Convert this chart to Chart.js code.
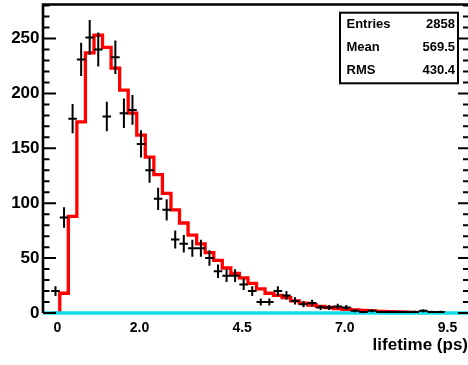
<!DOCTYPE html>
<html>
<head>
<meta charset="utf-8">
<title>lifetime</title>
<script src="https://cdn.jsdelivr.net/npm/chart.js@4.4.0/dist/chart.umd.min.js"></script>
<style>
  html, body { margin: 0; padding: 0; background: #fff; }
</style>
</head>
<body>
<canvas id="lifetimeChart" width="468" height="365"></canvas>
<script>
// ------------------------
// Binning
// ------------------------

const binStart = -0.15;
const binWidth = 0.2083;

// entries per bin (drawn as points with sqrt(N) errors)
const counts = [
    20, 87, 177, 231, 251, 240, 179, 233, 182, 185,
    154, 130, 104, 94, 67, 63, 59, 59, 50, 38,
    34, 34, 26, 20, 10, 10, 20, 16, 11, 8,
    9, 5, 5, 6, 5, 2, 1, 2, 1, 1,
    1, 1, 1, 2, 1, 1
];

// fitted shape per bin (red outline)
const fitValues = [
    18, 88, 174, 237, 253, 242, 223, 203, 182, 162,
    142, 126, 109, 94, 82, 71, 63, 55, 48, 41,
    36, 32, 27, 22, 18, 16, 14, 11, 9, 7.3,
    6, 5, 4, 3.4, 2.8, 2.3, 1.9, 1.5, 1.2, 1.0,
    0.8, 0.6, 0.5, 0.4, 0.3, 0.2
];

const xTickValues = [0, 2.0, 4.5, 7.0, 9.5];
const yTickValues = [0, 50, 100, 150, 200, 250];
const yMinorStep = 10;

const statNames = ["Entries", "Mean", "RMS"];
const statValues = ["2858", "569.5", "430.4"];

const FONT = "'Liberation Sans', Arial, Helvetica, sans-serif";

// step outline: one point per bin edge
const fitSteps = [{ x: binStart, y: 0 }];
fitValues.forEach((v, i) => {
    fitSteps.push({ x: binStart + (i + 1) * binWidth, y: v });
});

const points = counts.map((c, i) => ({ x: binStart + (i + 0.5) * binWidth, y: c }));

// ------------------------
// Error bars, frame, stats box
// ------------------------

const histDecor = {

    id: "histDecor",

    afterDatasetsDraw(chart) {

        const ctx = chart.ctx;
        const xs = chart.scales.x;
        const ys = chart.scales.y;

        ctx.save();
        ctx.strokeStyle = "#000";
        ctx.lineWidth = 2;
        ctx.beginPath();

        points.forEach(p => {
            const err = Math.sqrt(p.y);
            const cx = xs.getPixelForValue(p.x);
            const cy = ys.getPixelForValue(p.y);
            ctx.moveTo(xs.getPixelForValue(p.x - binWidth / 2), cy);
            ctx.lineTo(xs.getPixelForValue(p.x + binWidth / 2), cy);
            ctx.moveTo(cx, ys.getPixelForValue(p.y - err));
            ctx.lineTo(cx, ys.getPixelForValue(p.y + err));
        });

        ctx.stroke();
        ctx.restore();
    },

    afterDraw(chart) {

        const ctx = chart.ctx;
        const { left, right, top, bottom } = chart.chartArea;
        const ys = chart.scales.y;

        ctx.save();
        ctx.strokeStyle = "#000";

        // frame
        ctx.lineWidth = 2.6;
        ctx.beginPath();
        ctx.moveTo(left, bottom);
        ctx.lineTo(left, top);
        ctx.lineTo(right, top);
        ctx.stroke();

        // y ticks on both sides, pointing inwards
        ctx.lineWidth = 2;
        ctx.beginPath();
        for (let v = 0; v <= ys.max; v += yMinorStep) {
            const y = ys.getPixelForValue(v);
            const major = yTickValues.includes(v);
            ctx.moveTo(left, y);
            ctx.lineTo(left + (major ? 13 : 6.5), y);
            ctx.moveTo(right, y);
            ctx.lineTo(right - (major ? 10 : 5), y);
        }
        ctx.stroke();

        // stats box
        const boxLeft = right - 128;
        const boxTop = top + 8.2;
        const boxW = 118;
        const boxH = 70.6;

        ctx.fillStyle = "#fff";
        ctx.fillRect(boxLeft, boxTop, boxW, boxH);
        ctx.lineWidth = 2;
        ctx.strokeRect(boxLeft, boxTop, boxW, boxH);

        ctx.fillStyle = "#000";
        ctx.font = "bold 13px " + FONT;
        ctx.textBaseline = "alphabetic";
        statNames.forEach((name, i) => {
            const y = boxTop + 15.6 + i * 23;
            ctx.textAlign = "left";
            ctx.fillText(name, boxLeft + 6.5, y);
            ctx.textAlign = "right";
            ctx.fillText(statValues[i], boxLeft + boxW - 3, y);
        });

        ctx.restore();
    }
};

// ------------------------
// Chart
// ------------------------

new Chart(document.getElementById("lifetimeChart"), {

    type: "line",

    data: {

        datasets: [

            {
                label: "zero",
                data: [{ x: -0.35, y: 0 }, { x: 10, y: 0 }],
                borderColor: "#12dcea",
                borderWidth: 3.6,
                pointRadius: 0,
                clip: false,
                order: 0
            },

            {
                label: "fit",
                data: fitSteps,
                stepped: "before",
                borderColor: "#ff0000",
                borderWidth: 3.3,
                borderJoinStyle: "miter",
                pointRadius: 0,
                order: 1
            }

        ]

    },

    options: {

        responsive: false,
        animation: false,
        devicePixelRatio: 1,

        layout: {
            padding: { top: 4.5, right: 0, bottom: 0, left: 0 }
        },

        plugins: {
            legend: { display: false },
            tooltip: { enabled: false }
        },

        scales: {

            x: {
                type: "linear",
                min: -0.35,
                max: 10,
                grid: { display: false, drawTicks: false },
                border: { display: false },
                afterBuildTicks: s => { s.ticks = xTickValues.map(v => ({ value: v })); },
                afterFit: s => {
                    s.height = 52;
                    s.paddingLeft = 0;
                    s.paddingRight = 0;
                },
                ticks: {
                    autoSkip: false,
                    maxRotation: 0,
                    padding: 7,
                    color: "#000",
                    font: { family: FONT, size: 14, weight: "bold" },
                    callback: v => (v === 0 ? "0" : v.toFixed(1))
                },
                title: {
                    display: true,
                    text: "lifetime (ps)",
                    align: "end",
                    color: "#000",
                    font: { family: FONT, size: 17, weight: "bold" },
                    padding: { top: 0, bottom: 9.3 }
                }
            },

            y: {
                type: "linear",
                min: 0,
                max: 281,
                grid: { display: false, drawTicks: false },
                border: { display: false },
                afterBuildTicks: s => { s.ticks = yTickValues.map(v => ({ value: v })); },
                afterFit: s => {
                    s.width = 43;
                    s.paddingTop = 0;
                    s.paddingBottom = 0;
                },
                ticks: {
                    padding: 3.5,
                    color: "#000",
                    font: { family: FONT, size: 17, weight: "bold" }
                }
            }

        }

    },

    plugins: [histDecor]

});
</script>
</body>
</html>
